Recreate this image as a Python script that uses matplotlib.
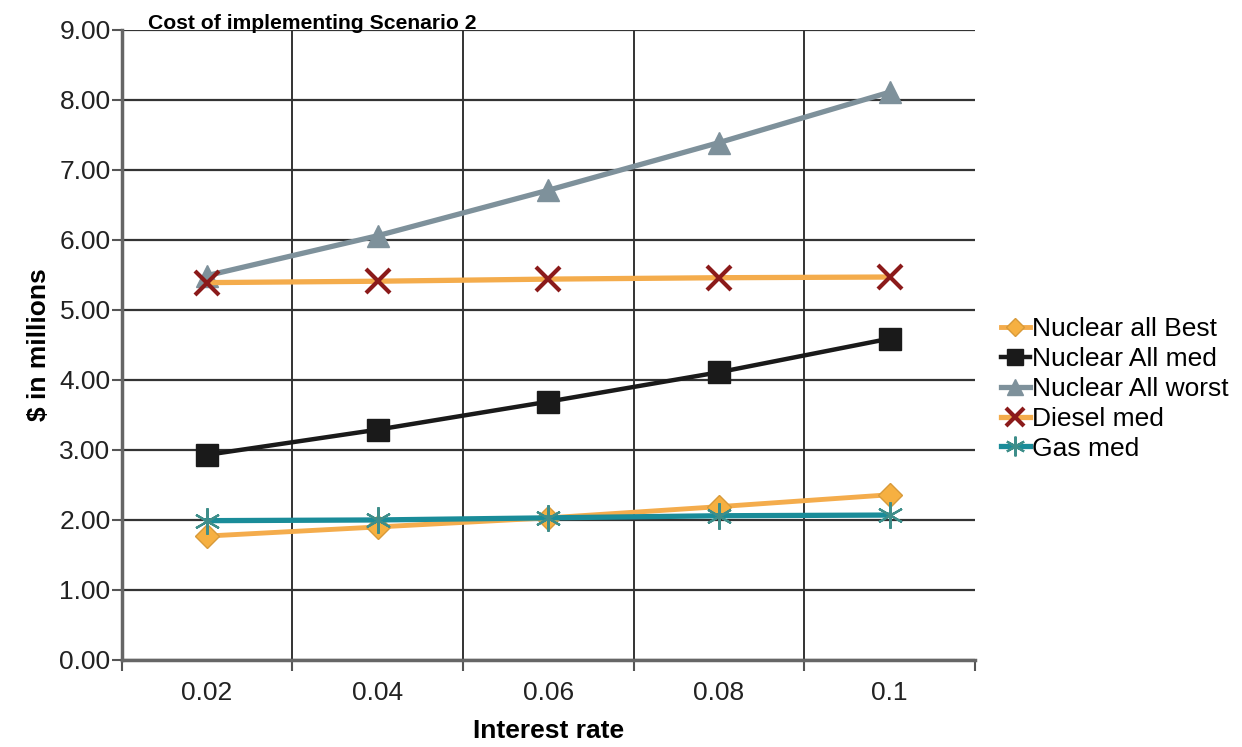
import matplotlib.pyplot as plt
import numpy as np

plt.rcParams['font.family'] = ['Liberation Sans', 'DejaVu Sans']

rates = ['0.02', '0.04', '0.06', '0.08', '0.1']
nuclear_best = [1.77, 1.90, 2.03, 2.19, 2.36]
nuclear_med = [2.93, 3.29, 3.69, 4.11, 4.59]
nuclear_worst = [5.49, 6.06, 6.71, 7.39, 8.11]
diesel_med = [5.39, 5.41, 5.44, 5.46, 5.47]
gas_med = [1.99, 2.00, 2.03, 2.06, 2.07]

fig = plt.figure(figsize=(12.42, 7.47), dpi=100)
ax = fig.add_axes([0.098, 0.1165, 0.687, 0.8435])

x = np.arange(len(rates))

ax.plot(x, nuclear_best, color='#F4AC4C', lw=3.5, marker='D', markersize=12,
        markerfacecolor='#F6B041', markeredgecolor='#D89A3A', label='Nuclear all Best', zorder=3)
ax.plot(x, nuclear_med, color='#1a1a1a', lw=3.2, marker='s', markersize=16,
        markerfacecolor='#1a1a1a', markeredgecolor='#1a1a1a', label='Nuclear All med', zorder=3)
ax.plot(x, nuclear_worst, color='#7E919B', lw=3.8, marker='^', markersize=16,
        markerfacecolor='#7E919B', markeredgecolor='#7E919B', label='Nuclear All worst', zorder=3)
ax.plot(x, diesel_med, color='#F4AC4C', lw=3.8, marker='x', markersize=17,
        markeredgewidth=3, markeredgecolor='#8B1A1A', label='Diesel med', zorder=3)
ax.plot(x, gas_med, color='#1A8C99', lw=3.8, marker=(6, 2, 0), markersize=19,
        markeredgewidth=1.6, markeredgecolor='#3E8E8A', label='Gas med', zorder=4)

ax.set_xlim(-0.5, len(rates) - 0.5)
ax.set_ylim(0, 9)
yt = np.arange(0, 9.01, 1)
ax.set_yticks(yt)
ax.set_yticklabels([f'{v:.2f}' for v in yt])
ax.set_xticks(x)
ax.set_xticklabels(rates)
ax.set_xticks(np.arange(-0.5, len(rates)), minor=True)
ax.tick_params(axis='x', which='major', length=0, pad=15, labelsize=19, colors='#222222')
ax.tick_params(axis='x', which='minor', length=8, width=1.5, color='#555555', direction='out')
ax.tick_params(axis='y', length=7, width=1.5, labelsize=19, pad=1, colors='#222222')
ax.tick_params(axis='y', color='#555555')

ax.grid(axis='y', which='major', color='#333333', lw=1.6, zorder=0)
for b in np.arange(0.5, len(rates) - 1):
    ax.axvline(b, color='#111111', lw=1.2, zorder=0)
ax.set_axisbelow(True)

for s in ['top', 'right']:
    ax.spines[s].set_visible(False)
for s in ['left', 'bottom']:
    ax.spines[s].set_color('#666666')
    ax.spines[s].set_linewidth(2.5)

ax.set_xlabel('Interest rate', fontsize=19, fontweight='bold', labelpad=10)
ax.set_ylabel('\\$ in millions', fontsize=19, fontweight='bold', labelpad=6)
fig.text(0.119, 0.968, 'Cost of implementing Scenario 2', fontsize=15.2,
         fontweight='bold', ha='left', va='center')

ax.legend(loc='center left', bbox_to_anchor=(1.03, 0.43), frameon=False,
          fontsize=19, handlelength=1.1, handletextpad=0.1, labelspacing=0.22,
          borderaxespad=0, borderpad=0, markerscale=0.75)

fig.savefig('out.png', dpi=100)
